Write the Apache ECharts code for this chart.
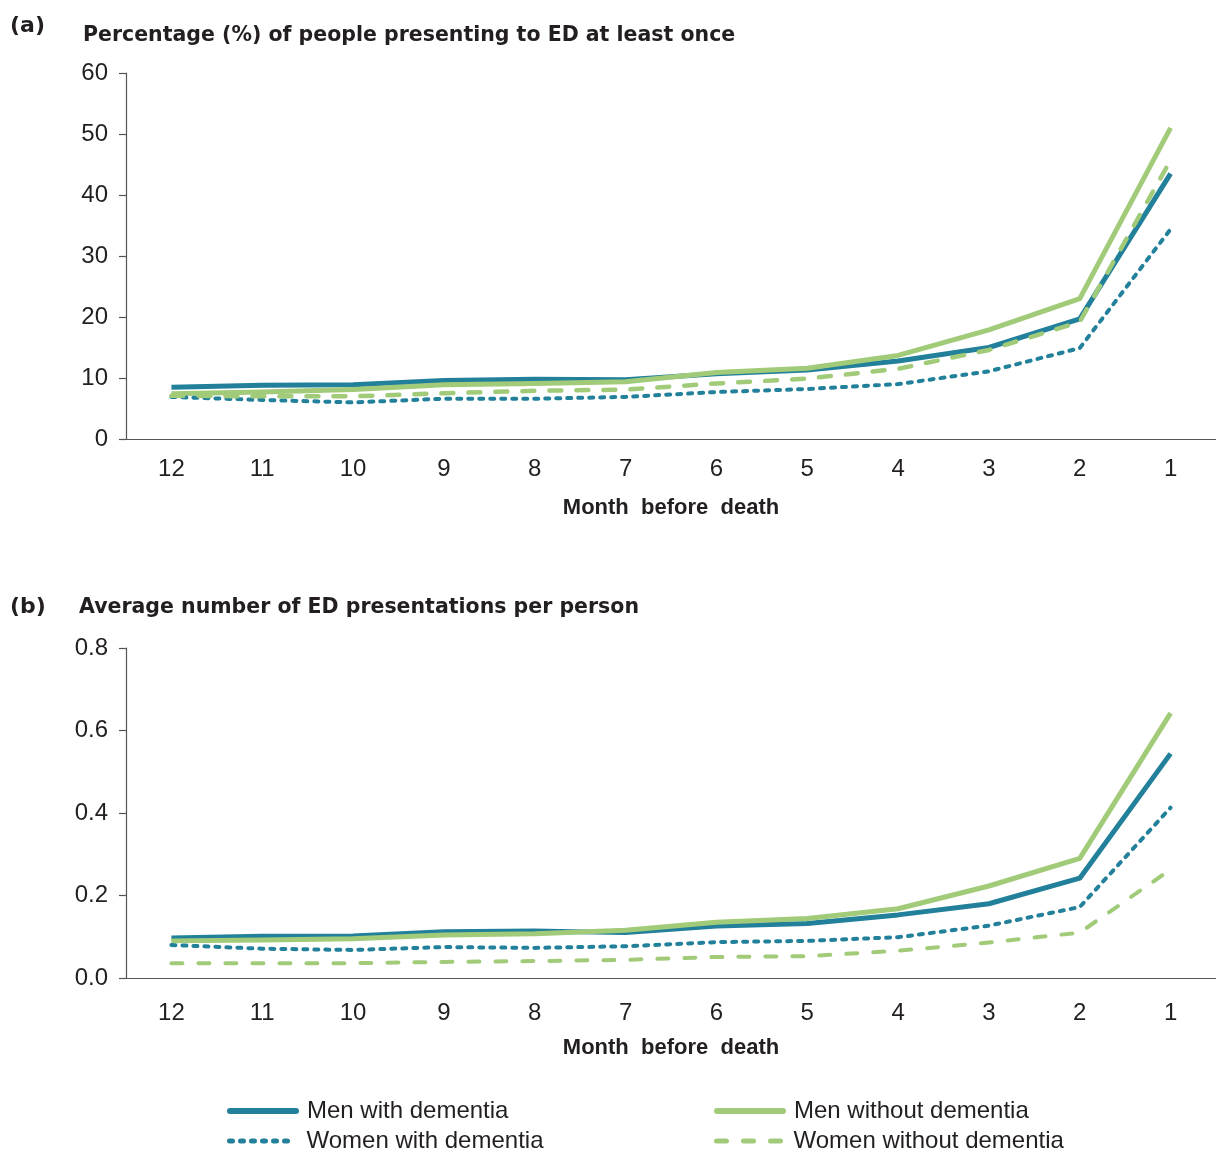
<!DOCTYPE html>
<html><head><meta charset="utf-8">
<script src="https://cdn.jsdelivr.net/npm/echarts@6/dist/echarts.min.js"></script>
<style>html,body{margin:0;padding:0;background:#fff}#c{width:1216px;height:1151px}</style>
</head><body><div id="c"></div>
<script>
const months = ['12','11','10','9','8','7','6','5','4','3','2','1'];
// Panel (a): percentage presenting to ED at least once
const pctMenDem    = [8.5, 8.8, 8.9, 9.6, 9.8, 9.7, 10.7, 11.3, 12.8, 15.0, 19.7, 43.5];
const pctMenNoDem  = [7.4, 7.7, 8.1, 8.9, 9.1, 9.4, 10.9, 11.6, 13.7, 17.9, 23.0, 51.0];
const pctWomDem    = [6.9, 6.4, 6.0, 6.6, 6.6, 6.9, 7.7, 8.2, 9.0, 11.1, 14.9, 34.4];
const pctWomNoDem  = [7.1, 7.0, 7.0, 7.5, 7.9, 8.1, 9.1, 9.9, 11.5, 14.6, 19.2, 45.7];
// Panel (b): average number of ED presentations per person
const avgMenDem    = [0.097, 0.101, 0.102, 0.112, 0.114, 0.110, 0.126, 0.132, 0.153, 0.180, 0.242, 0.544];
const avgMenNoDem  = [0.090, 0.092, 0.095, 0.104, 0.107, 0.116, 0.135, 0.144, 0.168, 0.223, 0.290, 0.642];
const avgWomDem    = [0.080, 0.071, 0.068, 0.075, 0.073, 0.077, 0.087, 0.090, 0.099, 0.127, 0.172, 0.413];
const avgWomNoDem  = [0.036, 0.036, 0.036, 0.039, 0.041, 0.044, 0.051, 0.053, 0.066, 0.086, 0.110, 0.263];
const yTicksA = [0, 10, 20, 30, 40, 50, 60];
const yTicksB = [0, 0.2, 0.4, 0.6, 0.8];

const TEAL = '#22809A', GREEN = '#A1CB79';
const FONT = '"Liberation Sans", Arial, sans-serif';
const TFONT = '"DejaVu Sans", Verdana, sans-serif';
const names = ['Men with dementia','Women with dementia','Men without dementia','Women without dementia'];

function styleFor(i, panel){
  if (i===0) return {color:TEAL, width:5, type:'solid', cap:'butt'};
  if (i===2) return {color:GREEN, width:5, type:'solid', cap:'butt'};
  if (i===1) return {color:TEAL, width:4, type:[4,7], cap:'round'};
  return panel===0 ? {color:GREEN, width:4.5, type:[12,15], cap:'round'}
                   : {color:GREEN, width:4, type:[11,16], cap:'round'};
}
const dataA = [pctMenDem, pctWomDem, pctMenNoDem, pctWomNoDem];
const dataB = [avgMenDem, avgWomDem, avgMenNoDem, avgWomNoDem];
const series = [];
[dataA, dataB].forEach((set, p) => {
  set.forEach((d, i) => {
    const ls = styleFor(i, p);
    series.push({
      name: names[i], type:'line', xAxisIndex:p, yAxisIndex:p, data:d,
      symbol:'none', smooth:false, z: i===1||i===3 ? 3 : 2,
      lineStyle:{color:ls.color, width:ls.width, type:ls.type, cap:ls.cap, join:'round'},
      itemStyle:{color:ls.color}
    });
  });
});

function xAxis(gi){
  return {
    type:'category', gridIndex:gi, data:months, boundaryGap:true,
    name:'Month  before  death', nameLocation:'middle', nameGap: gi===0?58:59,
    nameTextStyle:{fontFamily:FONT, fontSize:22, fontWeight:'bold', color:'#231F20'},
    axisLine:{lineStyle:{color:'#555', width:1.2}},
    axisTick:{alignWithLabel:true, length:8, lineStyle:{color:'#555', width:1.2}},
    axisLabel:{fontFamily:FONT, fontSize:24, color:'#231F20', margin: gi===0?18:23},
    splitLine:{show:false}
  };
}
function yAxis(gi, max, interval, fmt){
  return {
    type:'value', gridIndex:gi, min:0, max:max, interval:interval,
    axisLine:{show:true, lineStyle:{color:'#555', width:1.2}},
    axisTick:{show:true, length:7, lineStyle:{color:'#555', width:1.2}},
    axisLabel:{fontFamily:FONT, fontSize:24, color:'#231F20', margin:18, formatter:fmt},
    splitLine:{show:false}
  };
}
function leg(name, left, top, ls){
  return {
    data:[name], left:left, top:top, orient:'horizontal',
    itemWidth:66, itemHeight:16, itemGap:0,
    itemStyle:{opacity:0},
    lineStyle:ls,
    textStyle:{fontFamily:FONT, fontSize:24, color:'#231F20', padding:[0,0,0,6]}
  };
}

const chart = echarts.init(document.getElementById('c'), null, {renderer:'canvas'});
chart.setOption({
  backgroundColor:'#fff',
  animation:false,
  title:[
    {text:'(a)', left:5, top:10, textStyle:{fontFamily:TFONT, fontSize:22, fontWeight:'bold', color:'#231F20'}},
    {text:'Percentage (%) of people presenting to ED at least once', left:78, top:20, textStyle:{fontFamily:TFONT, fontSize:20.5, fontWeight:'bold', color:'#231F20'}},
    {text:'(b)', left:5, top:591, textStyle:{fontFamily:TFONT, fontSize:22, fontWeight:'bold', color:'#231F20'}},
    {text:'Average number of ED presentations per person', left:74, top:592, textStyle:{fontFamily:TFONT, fontSize:20.5, fontWeight:'bold', color:'#231F20'}}
  ],
  grid:[
    {left:126, width:1092, top:73, height:366},
    {left:126, width:1092, top:648, height:330}
  ],
  xAxis:[xAxis(0), xAxis(1)],
  yAxis:[
    yAxis(0, yTicksA[yTicksA.length-1], yTicksA[1]-yTicksA[0], v=>String(v)),
    yAxis(1, yTicksB[yTicksB.length-1], yTicksB[1]-yTicksB[0], v=>v.toFixed(1))
  ],
  legend:[
    leg('Men with dementia', 222, 1094, {width:6, type:'solid', cap:'round'}),
    leg('Women with dementia', 222, 1124, {width:5, type:[3,8], cap:'round'}),
    leg('Men without dementia', 709, 1094, {width:6, type:'solid', cap:'round'}),
    leg('Women without dementia', 709, 1124, {width:5, type:[10,17], cap:'round'})
  ],
  series: series
});
</script></body></html>
